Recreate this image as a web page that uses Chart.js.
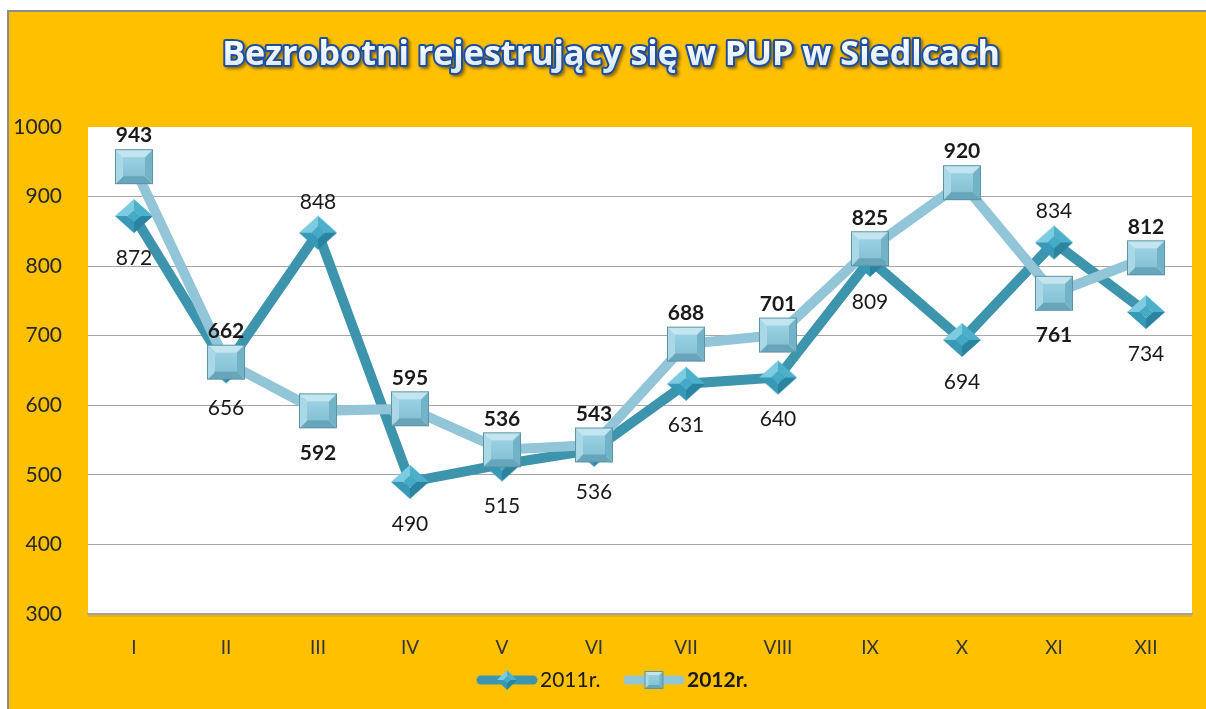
<!DOCTYPE html>
<html>
<head>
<meta charset="utf-8">
<script src="https://cdn.jsdelivr.net/npm/chart.js@4"></script>
<style>
  html, body { margin: 0; padding: 0; background: #FFFFFF; overflow: hidden; }
  #box { width: 1206px; height: 709px; }
  canvas { display: block; }
</style>
</head>
<body>
<div id="box"><canvas id="wykres"></canvas></div>
<script>
const tytul = "Bezrobotni rejestrujący się w PUP w Siedlcach";
const miesiace = ["I", "II", "III", "IV", "V", "VI", "VII", "VIII", "IX", "X", "XI", "XII"];
const dane2011 = [872, 656, 848, 490, 515, 536, 631, 640, 809, 694, 834, 734];
const dane2012 = [943, 662, 592, 595, 536, 543, 688, 701, 825, 920, 761, 812];
// gdzie stoi etykieta: "g" nad punktem, "d" pod punktem
const poz2011 = ["d", "d", "g", "d", "d", "d", "d", "d", "d", "d", "g", "d"];
const poz2012 = ["g", "g", "d", "g", "g", "g", "g", "g", "g", "g", "d", "g"];
const osY = { min: 300, max: 1000, krok: 100 };

const FONT = "Lato, 'Open Sans', sans-serif";

function wielokat(g, pts, kolor) {
  g.beginPath();
  g.moveTo(pts[0][0], pts[0][1]);
  for (let i = 1; i < pts.length; i++) g.lineTo(pts[i][0], pts[i][1]);
  g.closePath();
  g.fillStyle = kolor;
  g.fill();
}

// kwadrat z fazowaniem (seria 2012)
function kwadrat(w, h) {
  const c = document.createElement("canvas");
  c.width = w + 2; c.height = h + 2;
  const g = c.getContext("2d");
  const x0 = 1, y0 = 1, x1 = w + 1, y1 = h + 1, b = Math.round(w * 0.2);
  wielokat(g, [[x0, y0], [x1, y0], [x1 - b, y0 + b], [x0 + b, y0 + b]], "#C2E5F0");
  wielokat(g, [[x1, y0], [x1, y1], [x1 - b, y1 - b], [x1 - b, y0 + b]], "#73B3C7");
  wielokat(g, [[x0, y1], [x1, y1], [x1 - b, y1 - b], [x0 + b, y1 - b]], "#67A6BA");
  wielokat(g, [[x0, y0], [x0, y1], [x0 + b, y1 - b], [x0 + b, y0 + b]], "#A9D8E6");
  const gr = g.createLinearGradient(0, y0 + b, 0, y1 - b);
  gr.addColorStop(0, "#9AD1E2");
  gr.addColorStop(1, "#86C2D5");
  g.fillStyle = gr;
  g.fillRect(x0 + b, y0 + b, w - 2 * b, h - 2 * b);
  g.strokeStyle = "#5C93A5";
  g.lineWidth = 1;
  g.strokeRect(x0 + 0.5, y0 + 0.5, w - 1, h - 1);
  return c;
}

// romb z fazowaniem (seria 2011)
function romb(w, h) {
  const c = document.createElement("canvas");
  c.width = w + 2; c.height = h + 2;
  const g = c.getContext("2d");
  const cx = w / 2 + 1, cy = h / 2 + 1, rx = w / 2, ry = h / 2, k = 0.35;
  const T = [cx, cy - ry], R = [cx + rx, cy], B = [cx, cy + ry], L = [cx - rx, cy];
  const t = [cx, cy - ry * k], r = [cx + rx * k, cy], bb = [cx, cy + ry * k], l = [cx - rx * k, cy];
  wielokat(g, [L, T, t, l], "#7CCBE0");
  wielokat(g, [T, R, r, t], "#4CB0CB");
  wielokat(g, [R, B, bb, r], "#2A84A0");
  wielokat(g, [B, L, l, bb], "#3799B5");
  wielokat(g, [t, r, bb, l], "#45AAC6");
  return c;
}

const znak2011 = romb(38, 34);
const znak2012 = kwadrat(38, 35);
const legZnak2011 = romb(20, 20);
const legZnak2012 = kwadrat(19, 18);

const tloPlugin = {
  id: "tlo",
  beforeDraw(chart) {
    const g = chart.ctx, a = chart.chartArea;
    g.save();
    g.fillStyle = "#FFFFFF";
    g.fillRect(0, 0, chart.width, chart.height);
    g.fillStyle = "#8C8C8C";
    g.fillRect(7, 10, chart.width, 2);
    g.fillRect(7, 10, 2, chart.height);
    g.fillStyle = "#FFC000";
    g.fillRect(9, 12, chart.width, chart.height);
    g.fillStyle = "#FFFFFF";
    g.fillRect(a.left, a.top, a.right - a.left, a.bottom - a.top);
    g.fillStyle = "rgba(0,0,0,0.08)";
    g.fillRect(a.left, a.bottom, a.right - a.left, 3);
    g.restore();
  }
};

const tytulPlugin = {
  id: "tytul",
  afterDraw(chart) {
    const g = chart.ctx;
    g.save();
    let rozm = 34;
    g.font = "bold " + rozm + "px 'Open Sans', sans-serif";
    const szer = g.measureText(tytul).width;
    rozm = rozm * 778 / szer;
    g.font = "bold " + rozm + "px 'Open Sans', sans-serif";
    g.textAlign = "center";
    g.textBaseline = "middle";
    g.lineJoin = "round";
    g.shadowColor = "rgba(0,0,0,0.45)";
    g.shadowBlur = 3;
    g.shadowOffsetX = 2;
    g.shadowOffsetY = 2;
    g.strokeStyle = "#1D4FA0";
    g.lineWidth = 4;
    g.strokeText(tytul, 611, 55);
    g.shadowColor = "transparent";
    const grad = g.createLinearGradient(0, 40, 0, 70);
    grad.addColorStop(0, "#FFFFFF");
    grad.addColorStop(1, "#D8E8F6");
    g.fillStyle = grad;
    g.fillText(tytul, 611, 55);
    g.restore();
  }
};

const etykietyPlugin = {
  id: "etykiety",
  afterDatasetsDraw(chart) {
    const g = chart.ctx;
    g.save();
    g.textAlign = "center";
    g.textBaseline = "middle";
    g.fillStyle = "#1A1A1A";
    chart.data.datasets.forEach((ds, i) => {
      const meta = chart.getDatasetMeta(i);
      g.font = (ds.pogrubione ? "bold " : "") + "21px " + FONT;
      meta.data.forEach((p, j) => {
        const dy = ds.pozycje[j] === "g" ? -31 : 42;
        g.fillText(String(ds.data[j]), p.x, p.y + dy);
      });
    });
    g.restore();
  }
};

const legendaPlugin = {
  id: "legenda",
  afterDraw(chart) {
    const g = chart.ctx;
    const y = 680;
    const el = [
      { x: 477, kolor: "#3D94AD", znak: legZnak2011, tekst: "2011r.", bold: false },
      { x: 624, kolor: "#92C5D7", znak: legZnak2012, tekst: "2012r.", bold: true }
    ];
    g.save();
    el.forEach(e => {
      g.strokeStyle = e.kolor;
      g.lineWidth = 9;
      g.lineCap = "round";
      g.beginPath();
      g.moveTo(e.x + 4, y);
      g.lineTo(e.x + 56, y);
      g.stroke();
      g.drawImage(e.znak, e.x + 30 - e.znak.width / 2, y - e.znak.height / 2);
      g.font = (e.bold ? "bold " : "") + "21px " + FONT;
      g.fillStyle = "#1A1A1A";
      g.textBaseline = "middle";
      g.fillText(e.tekst, e.x + 63, y);
    });
    g.restore();
  }
};

new Chart(document.getElementById("wykres"), {
  type: "line",
  data: {
    labels: miesiace,
    datasets: [
      {
        label: "2011r.",
        data: dane2011,
        pozycje: poz2011,
        pogrubione: false,
        borderColor: "#3D94AD",
        borderWidth: 10,
        pointStyle: znak2011,
        order: 1
      },
      {
        label: "2012r.",
        data: dane2012,
        pozycje: poz2012,
        pogrubione: true,
        borderColor: "#92C5D7",
        borderWidth: 10,
        pointStyle: znak2012,
        order: 0
      }
    ]
  },
  options: {
    responsive: true,
    maintainAspectRatio: false,
    animation: false,
    layout: { padding: { top: 127, right: 11, bottom: 0, left: 0 } },
    plugins: {
      legend: { display: false },
      title: { display: false },
      tooltip: { enabled: false }
    },
    scales: {
      x: {
        offset: true,
        grid: { display: false, drawTicks: false },
        border: { display: true, color: "#A0A0A0", width: 1.5 },
        ticks: { color: "#333333", font: { family: FONT, size: 19 }, padding: 22 },
        afterFit(s) { s.height = 95; }
      },
      y: {
        min: osY.min,
        max: osY.max,
        grid: {
          drawTicks: false,
          color: c => (c.tick && c.tick.value === osY.max) ? "transparent" : "#A6A6A6",
          lineWidth: 1
        },
        border: { display: false },
        ticks: {
          stepSize: osY.krok,
          color: "#262626",
          font: { family: FONT, size: 21 },
          padding: 26,
          callback: v => String(v)
        },
        afterFit(s) { s.width = 88; }
      }
    }
  },
  plugins: [tloPlugin, etykietyPlugin, tytulPlugin, legendaPlugin]
});
</script>
</body>
</html>
